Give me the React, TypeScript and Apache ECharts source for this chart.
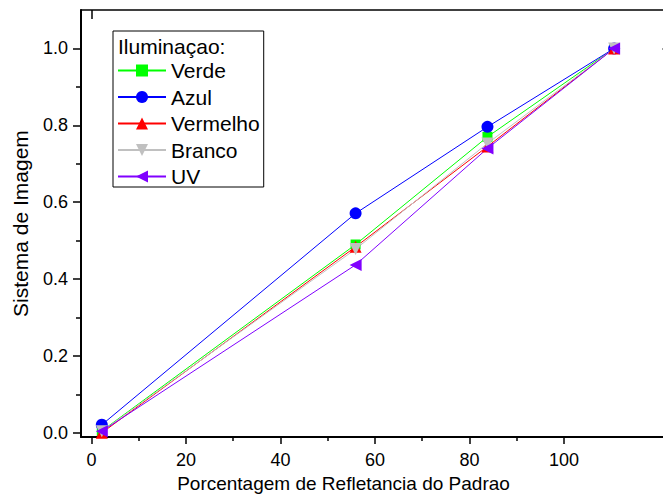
import React, { useEffect, useRef } from "react";
import * as echarts from "echarts";

const xValues = [2.2, 55.9, 83.8, 110.6];
const verde = [0.005, 0.49, 0.77, 1.0];
const azul = [0.021, 0.571, 0.796, 1.0];
const vermelho = [0.0, 0.484, 0.745, 1.0];
const branco = [0.004, 0.478, 0.753, 1.0];
const uv = [0.004, 0.437, 0.74, 1.0];

const xMajorTicks = [0, 20, 40, 60, 80, 100];
const xMinorTicks = [10, 30, 50, 70, 90];
const yMajorTicks = [0, 0.2, 0.4, 0.6, 0.8, 1.0];
const yMinorTicks = [0.1, 0.3, 0.5, 0.7, 0.9];

const FONT = "'Liberation Sans', Arial, sans-serif";

export default function App() {
  const ref = useRef<HTMLDivElement>(null);
  useEffect(() => {
    document.body.style.margin = "0";
    if (!ref.current) return;
    const chart = echarts.init(ref.current, undefined, { renderer: "svg" });
    const pair = (ys: number[]) => xValues.map((x, i) => [x, ys[i]]);
    const mk = (name: string, ys: number[], color: string, symbol: string, size: number, rotate = 0) => ({
      name,
      type: "line",
      data: pair(ys),
      xAxisIndex: 0,
      yAxisIndex: 0,
      symbol,
      symbolSize: size,
      symbolRotate: rotate,
      showAllSymbol: true,
      lineStyle: { color, width: 1 },
      itemStyle: { color },
      emphasis: { disabled: true },
    });
    const xMin = -2.2, xMax = 122, yMin = -0.011, yMax = 1.1;
    const line = (w: number) => ({ show: true, onZero: false, lineStyle: { color: "#000", width: w } });
    chart.setOption({
      animation: false,
      textStyle: { fontFamily: FONT },
      grid: { left: 81, top: 10, right: 2, bottom: 60, containLabel: false },
      graphic: [
        {
          type: "text",
          left: 118,
          top: 36,
          style: { text: "Iluminaçao:", fontSize: 21, fontFamily: FONT, fill: "#000" },
        },
      ],
      legend: {
        orient: "vertical",
        left: 113,
        top: 31,
        padding: [29, 4, 0, 4],
        itemWidth: 48,
        itemHeight: 15,
        itemGap: 5.5,
        borderColor: "#000",
        borderWidth: 1,
        textStyle: { fontSize: 21, fontFamily: FONT, color: "#000" },
        data: ["Verde", "Azul", "Vermelho", "Branco", "UV"],
      },
      xAxis: [
        {
          type: "value",
          position: "bottom",
          min: xMin,
          max: xMax,
          name: "Porcentagem de Refletancia do Padrao",
          nameLocation: "middle",
          nameGap: 36,
          nameTextStyle: { fontSize: 19, color: "#000", fontFamily: FONT, padding: [0, 62, 0, 0] },
          axisLine: line(2),
          axisTick: { show: true, inside: false, length: 7, customValues: xMajorTicks, lineStyle: { color: "#000", width: 1.5 } },
          axisLabel: { show: true, customValues: xMajorTicks, fontSize: 18, color: "#000", margin: 14, fontFamily: FONT },
          splitLine: { show: false },
        },
        {
          type: "value",
          position: "bottom",
          min: xMin,
          max: xMax,
          axisLine: { show: false, onZero: false },
          axisTick: { show: true, inside: false, length: 4, customValues: xMinorTicks, lineStyle: { color: "#000", width: 1.5 } },
          axisLabel: { show: false },
          splitLine: { show: false },
        },
        {
          type: "value",
          position: "top",
          min: xMin,
          max: xMax,
          axisLine: line(1.5),
          axisTick: { show: true, inside: true, length: 9, customValues: [0], lineStyle: { color: "#000", width: 1.5 } },
          axisLabel: { show: false },
          splitLine: { show: false },
        },
      ],
      yAxis: [
        {
          type: "value",
          position: "left",
          min: yMin,
          max: yMax,
          name: "Sistema de Imagem",
          nameLocation: "middle",
          nameGap: 50,
          nameRotate: 90,
          nameTextStyle: { fontSize: 21, color: "#000", fontFamily: FONT },
          axisLine: line(2),
          axisTick: { show: true, inside: false, length: 8, customValues: yMajorTicks, lineStyle: { color: "#000", width: 1.5 } },
          axisLabel: {
            show: true,
            customValues: yMajorTicks,
            fontSize: 18,
            color: "#000",
            margin: 13,
            fontFamily: FONT,
            formatter: (v: number) => v.toFixed(1),
          },
          splitLine: { show: false },
        },
        {
          type: "value",
          position: "left",
          min: yMin,
          max: yMax,
          axisLine: { show: false, onZero: false },
          axisTick: { show: true, inside: false, length: 5, customValues: yMinorTicks, lineStyle: { color: "#000", width: 1.5 } },
          axisLabel: { show: false },
          splitLine: { show: false },
        },
        {
          type: "value",
          position: "right",
          min: yMin,
          max: yMax,
          axisLine: line(1.5),
          axisTick: { show: true, inside: true, length: 5.5, customValues: [1.0], lineStyle: { color: "#000", width: 1.5 } },
          axisLabel: { show: false },
          splitLine: { show: false },
        },
      ],
      series: [
        mk("Verde", verde, "#00ff00", "rect", 10),
        mk("Azul", azul, "#0000ff", "circle", 12),
        mk("Vermelho", vermelho, "#ff0000", "triangle", 12),
        mk("Branco", branco, "#c0c0c0", "triangle", 12, 180),
        mk("UV", uv, "#8000ff", "triangle", 12, 90),
      ],
    });
    return () => chart.dispose();
  }, []);
  return (
    <div style={{ width: 663, height: 498, overflow: "hidden" }}>
      <div ref={ref} style={{ width: 670, height: 498 }} />
    </div>
  );
}
